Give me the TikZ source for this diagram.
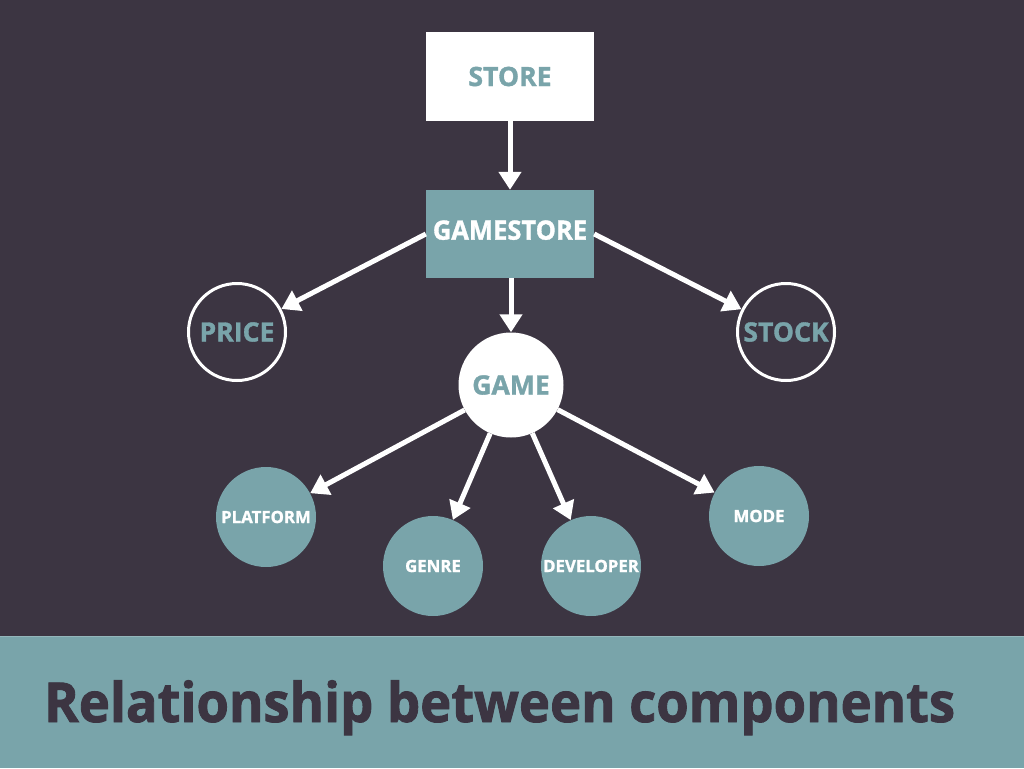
\documentclass[tikz,border=0pt]{standalone}
\usepackage{fontspec}
\setmainfont{Open Sans}[BoldFont={* Bold}, BoldFeatures={FakeBold=1.3}]
\newfontfamily\titlefont{Open Sans Bold}[FakeBold=1.6, FakeStretch=0.955]
\usetikzlibrary{arrows.meta}
\definecolor{bgdark}{RGB}{60,53,66}
\definecolor{teal}{RGB}{121,164,170}
\begin{document}
\begin{tikzpicture}[x=1pt,y=-1pt,
  every node/.style={font=\bfseries, inner sep=0pt},
  big/.style={font=\fontsize{26.6}{30}\bfseries\selectfont},
  small/.style={font=\fontsize{16.8}{20}\bfseries\selectfont, text=white},
  boxw/.style={rectangle, fill=white, minimum width=168pt, minimum height=89pt, text=teal},
  boxt/.style={rectangle, fill=teal, minimum width=168pt, minimum height=88pt, text=white},
  ring/.style={circle, draw=white, line width=3pt, minimum size=97pt, text=teal},
  gamec/.style={circle, fill=white, minimum size=105pt, text=teal},
  leaf/.style={circle, fill=teal, minimum size=100pt},
  conn/.style={draw=white, line width=5pt, -{Triangle[width=22pt,length=18pt]}}
]
\useasboundingbox (0,0) rectangle (1024,768);
\fill[bgdark] (0,0) rectangle (1024,768);
\fill[teal] (0,636) rectangle (1024,768);
\draw[teal!80!white, line width=1pt] (0,636) -- (1024,636);

\node[boxw, big] (store) at (510,76.5) {STORE};
\node[boxt, big] (gs) at (510,234) {\raisebox{8pt}{\scalebox{0.96}[1]{GAMESTORE}}};
\node[ring, big] (price) at (237,332) {PRICE};
\node[ring, big] (stock) at (786,332) {STOCK};
\node[gamec, big] (game) at (511,385) {GAME};
\node[leaf, small] (platform) at (266,517) {PLATFORM};
\node[leaf, small] (genre) at (433,566) {GENRE};
\node[leaf, small] (dev) at (591,566) {DEVELOPER};
\node[leaf, small] (mode) at (759,516) {MODE};

\node[anchor=base west, text=bgdark, font=\fontsize{55}{60}\titlefont] (title) at (44,722) {Relationship between components};

\draw[conn] (store.south -| gs.north) -- (gs.north);
\draw[conn] (gs.west) -- (price);
\draw[conn] (gs.east) -- (stock);
\draw[conn] (gs.south -| game.north) -- (game.north);
\draw[conn] (game) -- (platform);
\draw[conn] (game) -- (genre);
\draw[conn] (game) -- (dev);
\draw[conn] (game) -- (mode);
\end{tikzpicture}
\end{document}
